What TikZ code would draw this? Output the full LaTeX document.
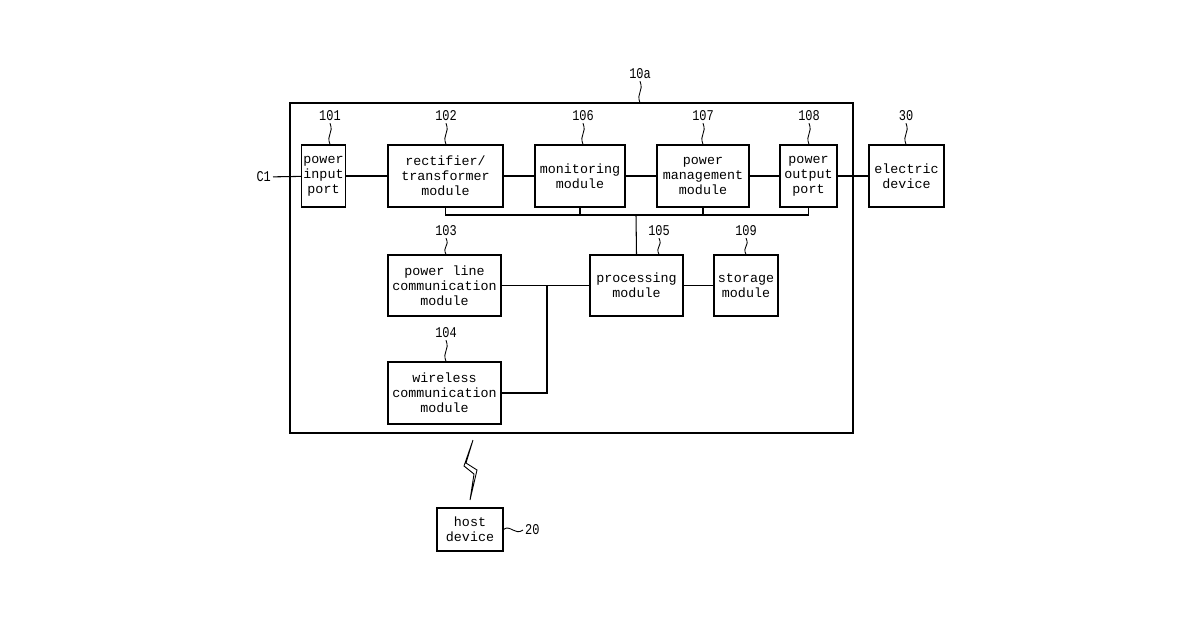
\documentclass[tikz,border=0pt]{standalone}
\usepackage{fontspec}
\setmainfont{Liberation Mono}
\usetikzlibrary{calc,positioning}
\tikzset{
  box/.style={draw, line width=0.6pt, align=center, inner sep=1pt, font=\fontsize{7.6}{8.6}\selectfont},
  lbl/.style={font=\fontsize{8.5}{9}\selectfont\addfontfeature{FakeStretch=0.8}, inner sep=1pt},
  wire/.style={line width=0.6pt},
  lead/.style={line width=0.5pt}
}
\newcommand{\leader}[2]{\draw[lead] (#1) .. controls ($(#1)!0.5!(#2)+(4,0)$) and ($(#1)!0.5!(#2)+(-4,0)$) .. (#2);}
\begin{document}
\begin{tikzpicture}[x=0.02cm, y=-0.02cm]
  \useasboundingbox (0,0) rectangle (1200,630);
  \draw[line width=0.8pt] (290,103) rectangle (853,433);
  % top row
  \node[box, minimum width=37*0.02cm, minimum height=62*0.02cm] (in) at (323.5,176) {power\\input\\port};
  \node[box, minimum width=115*0.02cm, minimum height=62*0.02cm] (rect) at (445.5,176) {rectifier/\\transformer\\module};
  \node[box, minimum width=90*0.02cm, minimum height=62*0.02cm] (mon) at (580,176) {monitoring\\module};
  \node[box, minimum width=92*0.02cm, minimum height=62*0.02cm] (pm) at (703,176) {power\\management\\module};
  \node[box, minimum width=57*0.02cm, minimum height=62*0.02cm] (out) at (808.5,176) {power\\output\\port};
  \node[box, minimum width=75*0.02cm, minimum height=62*0.02cm] (dev) at (906.5,176) {electric\\device};
  % middle and bottom
  \node[box, minimum width=113*0.02cm, minimum height=61*0.02cm] (plc) at (444.5,285.5) {power line\\communication\\module};
  \node[box, minimum width=93*0.02cm, minimum height=61*0.02cm] (proc) at (636.5,285.5) {processing\\module};
  \node[box, minimum width=64*0.02cm, minimum height=61*0.02cm] (sto) at (746,285.5) {storage\\module};
  \node[box, minimum width=113*0.02cm, minimum height=62*0.02cm] (wl) at (444.5,393) {wireless\\communication\\module};
  \node[box, minimum width=66*0.02cm, minimum height=43*0.02cm] (host) at (470,529.5) {host\\device};
  % connectors
  \node[lbl, anchor=east] (c1) at (273,177) {C1};
  \draw[wire] (c1) -- (in);
  \draw[wire] (in) -- (rect);
  \draw[wire] (rect) -- (mon);
  \draw[wire] (mon) -- (pm);
  \draw[wire] (pm) -- (out);
  \draw[wire] (out) -- (dev);
  \coordinate (bus) at (636,215);
  \draw[wire] (rect.south) |- (bus) -| (out.south);
  \draw[wire] (mon.south) -- (mon.south |- bus);
  \draw[wire] (pm.south) -- (pm.south |- bus);
  \draw[wire] (bus) -- (proc.north);
  \draw[wire] (proc) -- (sto);
  \coordinate (jn) at (547,286);
  \draw[wire] (plc.east) -- (proc.west);
  \draw[wire] (wl.east) -| (jn);
  % wireless link
  \draw[lead] (473,440) -- (466,463) -- (477,470) -- (470,500) -- (474,474) -- (464,466) -- cycle;
  % reference labels
  \node[lbl] (n101) at (330,116) {101};
  \node[lbl] (n102) at (446,116) {102};
  \node[lbl] (n106) at (583,116) {106};
  \node[lbl] (n107) at (703,116) {107};
  \node[lbl] (n108) at (809,116) {108};
  \node[lbl] (n30) at (906,116) {30};
  \node[lbl] (n10a) at (640,74) {10a};
  \node[lbl] (n103) at (446,231) {103};
  \node[lbl] (n105) at (659,231) {105};
  \node[lbl] (n109) at (746,231) {109};
  \node[lbl] (n104) at (446,333) {104};
  \node[lbl, anchor=west] (n20) at (523,530) {20};
  \leader{n101.south}{in.north -| n101.south}
  \leader{n102.south}{rect.north -| n102.south}
  \leader{n106.south}{mon.north -| n106.south}
  \leader{n107.south}{pm.north -| n107.south}
  \leader{n108.south}{out.north -| n108.south}
  \leader{n30.south}{dev.north -| n30.south}
  \leader{n10a.south}{640,103}
  \leader{n103.south}{plc.north -| n103.south}
  \leader{n105.south}{proc.north -| n105.south}
  \leader{n109.south}{sto.north -| n109.south}
  \leader{n104.south}{wl.north -| n104.south}
  \draw[lead] (host.east) .. controls (510,524) and (515,536) .. (n20.west);
\end{tikzpicture}
\end{document}
